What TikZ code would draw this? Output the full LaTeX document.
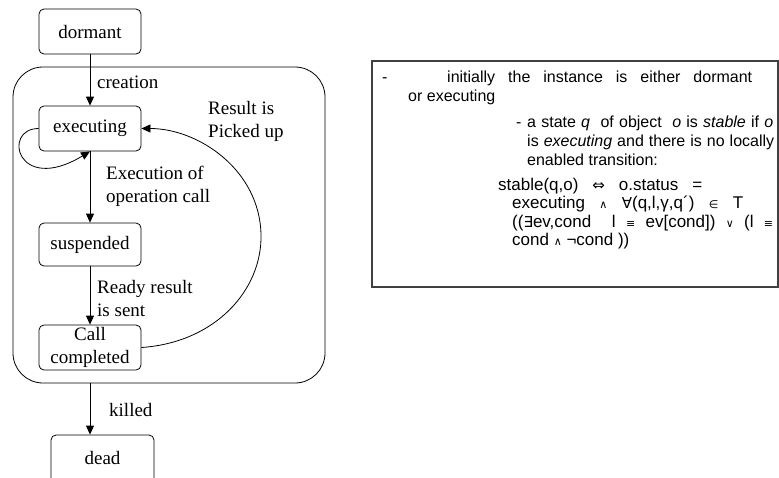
\documentclass[tikz,border=0pt]{standalone}
\usepackage{fontspec}
\setmainfont{Liberation Serif}
\newfontfamily\arialf{Liberation Sans}
\newfontfamily\symf{DejaVu Sans}
\usetikzlibrary{arrows.meta}
\newcommand\lblsize{\fontsize{19}{23}\selectfont}
\newcommand\notesize{\arialf\fontsize{16}{19}\selectfont}
\newcommand\formsize{\arialf\fontsize{17}{19}\selectfont}
\newcommand\msym[1]{{\symf\fontsize{11}{11}\selectfont #1}}
\newcommand\bsym[1]{{\symf\fontsize{15}{15}\selectfont #1}}

\begin{document}
\begin{tikzpicture}[x=1pt,y=-1pt,
  state/.style={draw, rounded corners=5pt, minimum width=102pt, minimum height=45pt,
                inner sep=0pt, font=\lblsize, align=center, line width=0.8pt},
  lbl/.style={anchor=west, inner sep=0pt, font=\lblsize, align=left},
  note/.style={anchor=base west, inner sep=0pt, font=\notesize},
  formula/.style={anchor=base west, inner sep=0pt, font=\formsize},
  arr/.style={-{Triangle[length=9pt,width=8pt]}, line width=0.8pt},
]
\clip (0,0) rectangle (779,477);

% life cycle of an instance
\node[draw, line width=0.8pt, rounded corners=30pt, minimum width=312pt,
      minimum height=316pt, inner sep=0pt] (life) at (169,225) {};

\node[state] (dormant) at (90,31.5) {dormant};
\node[state] (executing) at (90,128.5) {executing};
\node[state, minimum height=43pt] (suspended) at (90,244.5) {suspended};
\node[state] (called) at (90,347.5) {Call\\completed};
\node[state, minimum width=103pt, minimum height=56pt, text depth=10pt] (dead) at (102.5,463) {dead};

\draw[arr] (dormant) -- (executing);
\draw[arr] (executing) -- (suspended);
\draw[arr] (suspended) -- (called);
\draw[arr] (called.south |- life.south) -- (called.south |- dead.north);
\draw[arr] (executing.west) .. controls +(-37,0) and +(-73,44) .. (executing.south);

\coordinate (bend) at (261,235);
\draw[arr] (called.east) .. controls +(74,-5) and +(1,55) .. (bend)
           .. controls +(-1,-65) and +(57,0) .. (executing.east);

\node[lbl] (lcreation) at (97,82) {creation};
\node[lbl] (lresult) at (208,121.5) {Result is\\Picked up};
\node[lbl] (lexec) at (106,186) {Execution of\\operation call};
\node[lbl] (lready) at (97,298.5) {Ready result\\is sent};
\node[lbl] (lkilled) at (109,410) {killed};

% explanatory note
\node[draw=black!75, line width=1.2pt, minimum width=406pt, minimum height=226pt,
      inner sep=0pt] (notebox) at (575,174) {};

\node[note] (d1) at (382,82) {-};
\node[note] (t1) at (447,82) {\makebox[305pt][s]{initially the instance is either dormant}};
\node[note] (t2) at (408,101.5) {or executing};
\node[note] (d2) at (516,127) {-};
\node[note] (t3) at (527,127) {\makebox[246pt][s]{a state \textit{q}\ \ of object\ \ \textit{o} is \textit{stable} if \textit{o}}};
\node[note] (t4) at (527,146) {\makebox[247pt][s]{is \textit{executing} and there is no locally}};
\node[note] (t5) at (527,165) {enabled transition:};
\node[formula] (f1) at (498,190) {\makebox[204pt][s]{stable(q,o) \bsym{⇔} o.status =}};
\node[formula] (f2) at (512,208.5) {\makebox[231pt][s]{executing \msym{∧} \bsym{∀}(q,l,γ,q´) \msym{∈} T}};
\node[formula] (f3) at (512,227) {\makebox[261pt][s]{((\bsym{∃}ev,cond\ \ l \msym{≡} ev[cond]) \msym{∨} (l \msym{≡}}};
\node[formula] (f4) at (512,245.5) {cond \msym{∧} ¬cond ))};
\end{tikzpicture}
\end{document}
